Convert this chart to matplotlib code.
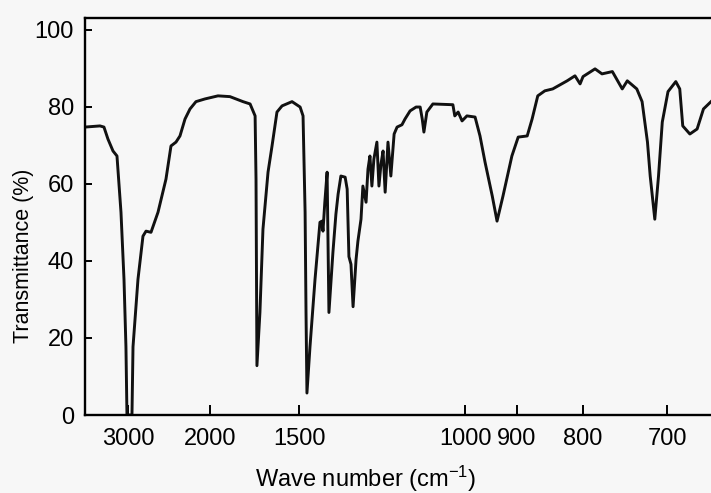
import numpy as np
import matplotlib
matplotlib.use("Agg")
import matplotlib.pyplot as plt

plt.rcParams['font.family'] = ['Liberation Sans', 'DejaVu Sans']
plt.rcParams['mathtext.default'] = 'regular'

# IR spectrum: wavenumber (cm-1) and transmittance (%)
wavenumber = [4067, 3618, 3515, 3418, 3302, 3216, 3134, 3075, 3038, 3019,
              2929, 2911, 2828, 2749, 2703, 2631, 2536, 2436, 2377, 2321,
              2278, 2226, 2177, 2121, 2042, 1942, 1861, 1780, 1739, 1711,
              1706, 1703, 1701, 1685, 1669, 1643, 1623, 1599, 1575, 1530,
              1495, 1482, 1473, 1469, 1465, 1452, 1431, 1411, 1403, 1399,
              1392, 1383, 1376, 1361, 1350, 1342, 1332, 1317, 1310, 1304,
              1297, 1290, 1280, 1274, 1264, 1258, 1248, 1242, 1236, 1230,
              1224, 1215, 1209, 1203, 1197, 1191, 1183, 1175, 1166, 1158,
              1145, 1137, 1124, 1109, 1099, 1094, 1090, 1083, 1069, 1025,
              1021, 1014, 1006, 996, 979, 969, 959, 945, 936, 925,
              909, 898, 883, 875, 866, 855, 843, 822, 811, 804,
              800, 784, 775, 762, 750, 744, 733, 727, 721, 718,
              713, 709, 705, 699, 691, 687, 684, 677, 670, 664, 657]
transmittance = [74.7, 75.0, 74.7, 71.6, 68.5, 67.2, 52.6, 35.2, 17.7, 0.0,
                 0.0, 17.7, 35.2, 46.4, 47.7, 47.4, 52.6, 61.2, 69.8, 70.8,
                 72.4, 76.8, 79.4, 81.3, 82.0, 82.8, 82.6, 81.3, 80.7, 77.6,
                 61.2, 35.2, 12.8, 26.6, 48.2, 63.0, 69.8, 78.6, 80.2, 81.3,
                 79.9, 77.6, 52.6, 26.6, 5.7, 17.7, 35.2, 50.0, 50.3, 47.7,
                 55.0, 63.0, 26.6, 42.2, 52.1, 57.3, 62.0, 61.7, 58.6, 41.1,
                 39.1, 28.1, 40.4, 45.1, 50.8, 59.4, 55.2, 63.8, 67.2, 59.4,
                 66.4, 70.8, 59.4, 65.1, 68.5, 57.8, 70.8, 62.0, 72.9, 74.7,
                 75.3, 76.8, 78.9, 79.9, 79.9, 76.8, 73.4, 78.6, 80.7, 80.5,
                 77.6, 78.6, 76.3, 77.6, 77.3, 72.4, 65.6, 56.8, 50.3, 56.8,
                 67.2, 72.1, 72.4, 76.8, 82.8, 84.1, 84.6, 86.7, 88.0, 85.9,
                 87.8, 89.8, 88.5, 89.1, 84.6, 86.7, 84.6, 81.3, 70.8, 62.0,
                 50.8, 62.0, 76.0, 83.9, 86.5, 84.6, 75.0, 72.9, 74.2, 79.4, 81.3]

x_ticks = [3000, 2000, 1500, 1000, 900, 800, 700]
y_ticks = [0, 20, 40, 60, 80, 100]

# the printed axis is (nearly) linear in wavelength; where each tick sits
tick_lam = [2.0] + [1e4 / t for t in x_ticks] + [20.0]
tick_pos = [62.4, 128, 210, 299, 465, 517, 583, 667, 935.6]


def forward(nu):
    # increasing with wavenumber, so the limits below run high -> low
    nu = np.clip(np.asarray(nu, dtype=float), 1, None)
    return -np.interp(1e4 / nu, tick_lam, tick_pos)


def inverse(p):
    return 1e4 / np.interp(-np.asarray(p, dtype=float), tick_pos, tick_lam)


fig = plt.figure(figsize=(7.11, 4.93), dpi=100)
fig.patch.set_facecolor('#f7f7f7')
ax = fig.add_axes([0.1195, 0.1582, 0.8805, 0.8053])
ax.set_facecolor('#f7f7f7')

ax.set_xscale('function', functions=(forward, inverse))
ax.plot(wavenumber, transmittance, color='#111111', lw=2.1)

ax.set_xlim(4067, 657)
ax.set_ylim(0, 103)
ax.set_xticks(x_ticks)
ax.set_xticklabels([str(t) for t in x_ticks])
ax.xaxis.set_minor_locator(matplotlib.ticker.NullLocator())
ax.set_yticks(y_ticks)

ax.tick_params(axis='x', direction='in', length=7, width=1.4, pad=9,
               labelsize=17)
ax.tick_params(axis='y', direction='in', length=5, width=1.4, pad=8,
               labelsize=17)

for side in ['left', 'bottom', 'top']:
    ax.spines[side].set_linewidth(1.7)
ax.spines['right'].set_visible(False)

# labels sit off-centre in the scan (the original frame ran past the crop)
ax.set_xlabel('Wave number (cm$^{-1}$)', fontsize=17)
ax.xaxis.set_label_coords(0.449, -0.122)
ax.set_ylabel('Transmittance (%)', fontsize=15.5)
ax.yaxis.set_label_coords(-0.082, 0.40)

fig.savefig('out.png', dpi=100, facecolor=fig.get_facecolor())
